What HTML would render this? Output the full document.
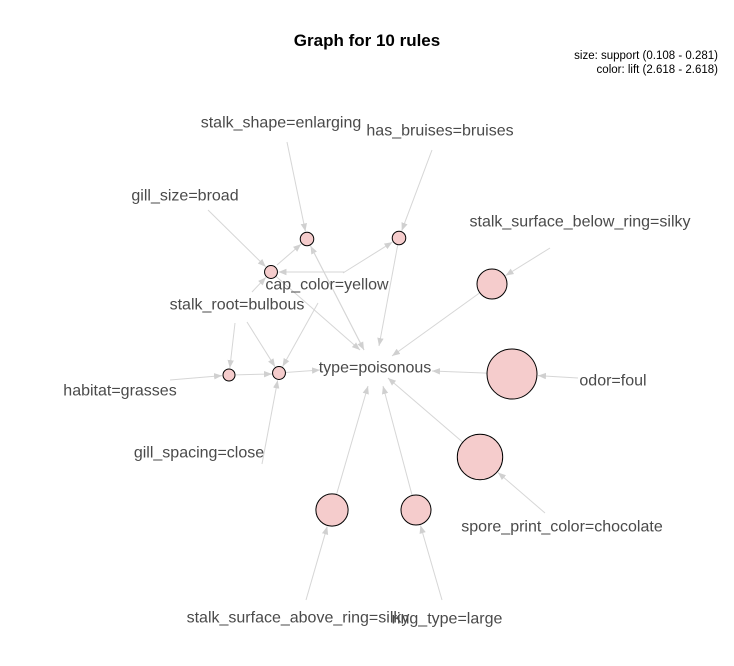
<!DOCTYPE html>
<html><head><meta charset="utf-8"><style>
html,body{margin:0;padding:0;background:#fff;}
svg{display:block;font-family:"Liberation Sans",sans-serif;}
</style></head><body>
<svg id="chart" width="734" height="666" viewBox="0 0 734 666">
<defs><marker id="ah" viewBox="0 0 10 10" refX="10" refY="5" markerWidth="8" markerHeight="8" orient="auto"><path d="M0,1 L10,5 L0,9 z" fill="#d0d0d0"/></marker></defs>
<text x="367" y="46" text-anchor="middle" font-size="17" font-weight="bold">Graph for 10 rules</text>
<text x="718" y="59" text-anchor="end" font-size="11.5">size: support (0.108 - 0.281)</text>
<text x="718" y="73" text-anchor="end" font-size="11.5">color: lift (2.618 - 2.618)</text>
<g id="edges"></g><g id="nodes"></g><g id="labels"></g>
</svg>
<script>
const ruleIds=["r1","r2","r3","r4","r5","r6","r7","r8","r9","r10"];
const ruleSupport=[0.115,0.115,0.112,0.108,0.112,0.19,0.281,0.26,0.2,0.19];
const ruleLift=[2.618,2.618,2.618,2.618,2.618,2.618,2.618,2.618,2.618,2.618];
const itemNames=["stalk_shape=enlarging","has_bruises=bruises","gill_size=broad","stalk_surface_below_ring=silky","cap_color=yellow","stalk_root=bulbous","type=poisonous","habitat=grasses","odor=foul","gill_spacing=close","spore_print_color=chocolate","stalk_surface_above_ring=silky","ring_type=large"];
const rulePos={r1:[307,239],r2:[399,238],r3:[271,272],r4:[229,375],r5:[279,373],r6:[492,284],r7:[512,374],r8:[480,457],r9:[332,510],r10:[416,510]};
const itemPos=[[281,122],[440,130],[185,195],[580,221],[327,284],[237,304],[375,367],[120,390],[613,380],[199,452],[562,526],[298,617],[447,618]];
const inEdges=[[287,142,"r1"],[277,265,"r1"],[432,150,"r2"],[343,273,"r2"],[208,210,"r3"],[252,292,"r3"],[345,272,"r3"],[235,323,"r4"],[170,380,"r4"],[247,322,"r5"],[318,303,"r5"],[262,464,"r5"],[364,350,"r1"],[550,248,"r6"],[578,378,"r7"],[545,513,"r8"],[306,600,"r9"],[442,600,"r10"]];
const outEdges=[["r1",364,350],["r3",360,350],["r2",379,346],["r5",320,370],["r4",272,374],["r6",392,356],["r7",432,371],["r8",388,378],["r9",368,386],["r10",383,386]];
function rad(s){return 6+(s-0.108)/(0.281-0.108)*19;}
const NS="http://www.w3.org/2000/svg";
const eg=document.getElementById('edges'),ng=document.getElementById('nodes'),lg=document.getElementById('labels');
function line(x1,y1,x2,y2){const l=document.createElementNS(NS,'line');l.setAttribute('x1',x1);l.setAttribute('y1',y1);l.setAttribute('x2',x2);l.setAttribute('y2',y2);l.setAttribute('stroke','#d6d6d6');l.setAttribute('stroke-width','1');l.setAttribute('marker-end','url(#ah)');


eg.appendChild(l);}
inEdges.forEach(e=>{const i=ruleIds.indexOf(e[2]);const [cx,cy]=rulePos[e[2]];const r=rad(ruleSupport[i])+1;const dx=cx-e[0],dy=cy-e[1],d=Math.hypot(dx,dy);line(e[0],e[1],cx-dx/d*r,cy-dy/d*r);});
outEdges.forEach(e=>{const i=ruleIds.indexOf(e[0]);const [cx,cy]=rulePos[e[0]];const r=rad(ruleSupport[i]);const dx=e[1]-cx,dy=e[2]-cy,d=Math.hypot(dx,dy);line(cx+dx/d*r,cy+dy/d*r,e[1],e[2]);});
ruleIds.forEach((id,i)=>{const c=document.createElementNS(NS,'circle');const [x,y]=rulePos[id];c.setAttribute('cx',x);c.setAttribute('cy',y);c.setAttribute('r',rad(ruleSupport[i]));c.setAttribute('fill','#f5cccc');c.setAttribute('stroke','#000');c.setAttribute('stroke-width','1');


ng.appendChild(c);});
itemNames.forEach((n,i)=>{const t=document.createElementNS(NS,'text');t.setAttribute('x',itemPos[i][0]);t.setAttribute('y',itemPos[i][1]+5.5);t.setAttribute('text-anchor','middle');t.setAttribute('font-size','16');t.setAttribute('fill','#4a4a4a');t.textContent=n;


lg.appendChild(t);});
</script>
</body></html>
